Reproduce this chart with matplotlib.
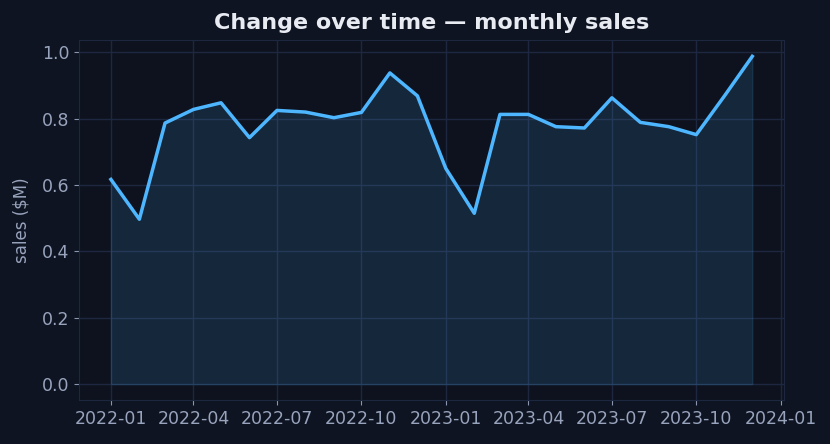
import pandas as pd
import matplotlib
matplotlib.use("Agg")
import matplotlib.pyplot as plt

months = pd.date_range("2022-01-01", "2023-12-01", freq="MS")
sales = [0.617, 0.497, 0.787, 0.828, 0.848, 0.743, 0.825, 0.820, 0.803, 0.819,
         0.938, 0.869, 0.650, 0.515, 0.813, 0.813, 0.776, 0.772, 0.863, 0.789,
         0.776, 0.752, 0.870, 0.988]

fig_bg = "#0e1421"
ax_bg = "#0d121e"
grid_c = "#1e2740"
text_c = "#e8ebf2"
tick_c = "#98a4bd"
line_c = "#4db6ff"

fig, ax = plt.subplots(figsize=(8.3, 4.44), dpi=100)
fig.patch.set_facecolor(fig_bg)
ax.set_facecolor(ax_bg)

ax.fill_between(months, sales, 0, facecolor=line_c, edgecolor=line_c,
                alpha=0.13, linewidth=1)
ax.plot(months, sales, color=line_c, linewidth=2.5)

ax.set_title("Change over time — monthly sales", color=text_c,
             fontsize=16, fontweight="bold", pad=8)
ax.set_ylabel("sales ($M)", color=tick_c, fontsize=12, labelpad=8)

ax.grid(True, color=grid_c, linewidth=1)
ax.set_axisbelow(True)
for s in ax.spines.values():
    s.set_color(grid_c)
ax.tick_params(colors=tick_c, labelsize=12.5)
ax.tick_params(axis="both", color="#8a96b0")

fig.subplots_adjust(left=0.095, right=0.945, top=0.91, bottom=0.098)
fig.savefig("out.png", facecolor=fig_bg)
